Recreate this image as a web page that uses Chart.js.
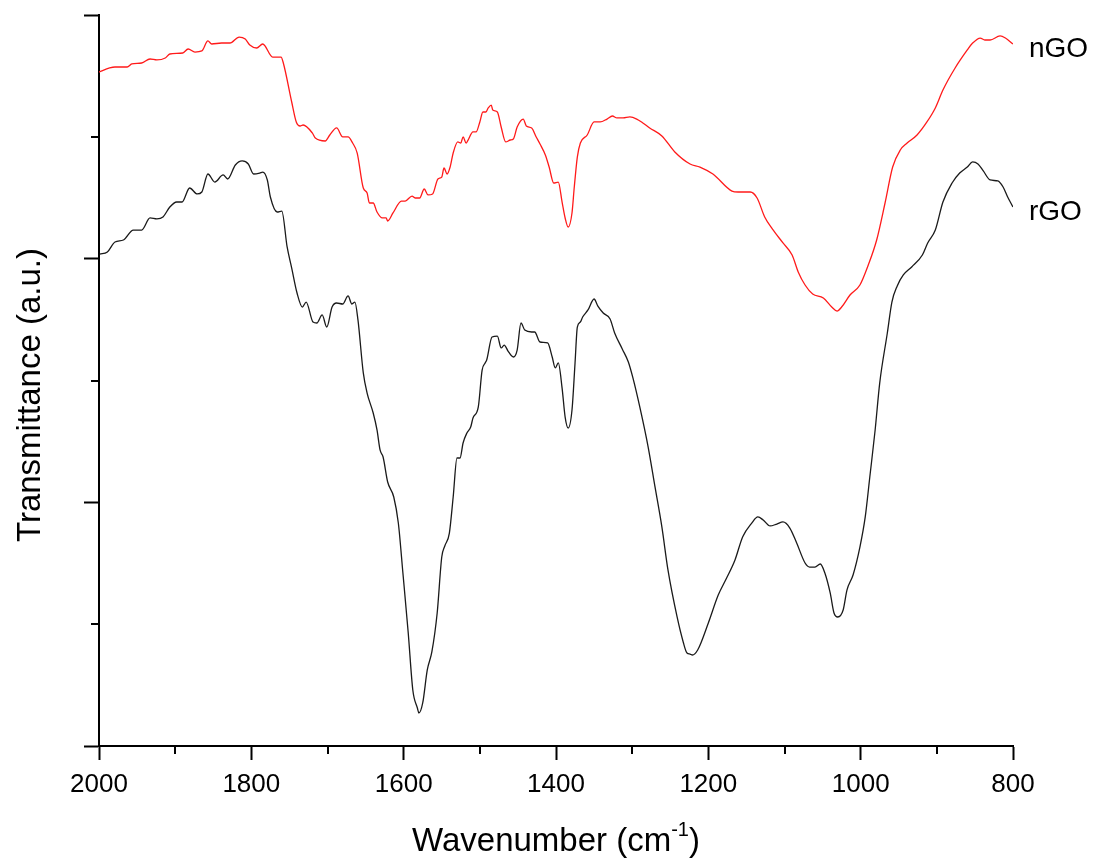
<!DOCTYPE html>
<html>
<head>
<meta charset="utf-8">
<title>FTIR nGO / rGO</title>
<script src="https://cdn.jsdelivr.net/npm/chart.js@4.4.1/dist/chart.umd.min.js"></script>
<style>
  html, body { margin: 0; padding: 0; background: #fff; }
  #wrap { width: 1095px; height: 859px; }
</style>
</head>
<body>
<div id="wrap"><canvas id="ftir" width="1095" height="859"></canvas></div>
<script>
// wavenumber (cm-1) and transmittance (a.u.)
const ngoWave = [2000,1986,1979,1963,1957,1944,1933,1924,1913,1907,1890,1883,1874,1865,1857,1852,1839,1828,1816,1808,1802,1793,1785,1772,1761,1758,1747,1741,1736,1732,1720,1716,1703,1697,1688,1680,1673,1667,1661,1653,1648,1645,1640,1635,1628,1623,1621,1614,1603,1598,1589,1585,1579,1573,1568,1562,1555,1550,1547,1543,1539,1535,1529,1525,1522,1518,1516,1509,1505,1500,1496,1492,1489,1485,1483,1477,1472,1466,1460,1456,1451,1443,1439,1432,1426,1421,1414,1409,1403,1397,1392,1388,1384,1379,1376,1372,1368,1359,1350,1342,1333,1326,1320,1312,1303,1294,1286,1277,1261,1244,1224,1211,1194,1169,1161,1145,1136,1126,1116,1102,1090,1082,1073,1063,1049,1038,1031,1025,1014,1001,990,979,968,958,948,939,926,913,902,892,876,860,853,843,837,830,817,810,800];
const ngoT = [5.532,5.565,5.573,5.573,5.598,5.606,5.639,5.631,5.647,5.680,5.688,5.721,5.696,5.705,5.787,5.762,5.770,5.770,5.819,5.803,5.754,5.729,5.762,5.655,5.655,5.606,5.286,5.122,5.089,5.097,5.032,4.990,4.966,5.015,5.073,4.999,4.999,4.949,4.867,4.580,4.539,4.457,4.457,4.383,4.334,4.334,4.309,4.375,4.473,4.473,4.514,4.498,4.498,4.572,4.523,4.531,4.654,4.670,4.744,4.695,4.752,4.867,4.958,4.949,4.999,4.949,4.966,5.040,5.040,5.122,5.204,5.204,5.237,5.261,5.220,5.204,5.081,4.958,4.974,4.982,5.081,5.146,5.089,5.073,4.999,4.941,4.851,4.752,4.621,4.629,4.465,4.334,4.260,4.375,4.588,4.834,4.949,5.015,5.122,5.122,5.146,5.171,5.155,5.155,5.163,5.146,5.114,5.073,5.007,4.876,4.777,4.752,4.695,4.555,4.547,4.547,4.498,4.342,4.244,4.129,4.030,3.891,3.784,3.710,3.677,3.603,3.570,3.603,3.702,3.784,3.948,4.153,4.457,4.752,4.892,4.949,5.015,5.122,5.237,5.384,5.565,5.713,5.770,5.811,5.795,5.795,5.828,5.811,5.762];

const rgoWave = [1999,1989,1979,1968,1955,1944,1933,1924,1916,1907,1898,1891,1881,1871,1865,1857,1848,1837,1831,1821,1812,1804,1797,1789,1785,1779,1775,1766,1760,1753,1747,1740,1733,1728,1719,1714,1707,1701,1694,1688,1680,1673,1668,1664,1660,1653,1648,1640,1635,1631,1627,1621,1613,1607,1601,1594,1588,1582,1580,1575,1569,1563,1556,1550,1546,1540,1535,1530,1526,1522,1517,1512,1509,1502,1497,1493,1491,1484,1477,1472,1468,1463,1456,1451,1446,1441,1432,1428,1421,1411,1405,1401,1397,1392,1388,1384,1379,1375,1372,1368,1365,1358,1350,1345,1338,1329,1323,1313,1305,1299,1290,1279,1270,1261,1253,1241,1233,1228,1224,1221,1214,1200,1187,1176,1165,1155,1143,1135,1128,1119,1110,1102,1093,1084,1073,1067,1060,1053,1047,1040,1035,1030,1023,1018,1010,1001,994,988,981,975,965,959,952,944,933,919,912,902,892,880,870,860,853,846,839,830,820,813,807,800];
const rgoT = [4.038,4.055,4.137,4.153,4.235,4.235,4.334,4.326,4.342,4.424,4.465,4.465,4.580,4.531,4.547,4.695,4.629,4.687,4.654,4.769,4.802,4.777,4.695,4.703,4.711,4.646,4.506,4.383,4.391,4.096,3.923,3.718,3.603,3.644,3.480,3.472,3.538,3.439,3.603,3.636,3.628,3.694,3.628,3.644,3.497,3.062,2.897,2.733,2.594,2.430,2.372,2.167,2.044,1.830,1.420,0.928,0.460,0.312,0.271,0.353,0.624,0.772,1.092,1.551,1.642,1.748,2.044,2.364,2.364,2.487,2.569,2.618,2.692,2.783,3.086,3.144,3.168,3.357,3.365,3.267,3.291,3.242,3.193,3.250,3.472,3.414,3.398,3.398,3.316,3.308,3.193,3.103,3.144,2.938,2.700,2.610,2.758,3.144,3.439,3.480,3.521,3.579,3.669,3.611,3.554,3.505,3.390,3.259,3.152,3.021,2.783,2.454,2.126,1.798,1.445,1.059,0.854,0.763,0.755,0.747,0.788,1.010,1.239,1.379,1.527,1.716,1.830,1.880,1.855,1.806,1.822,1.839,1.789,1.666,1.502,1.469,1.469,1.494,1.420,1.256,1.092,1.059,1.116,1.280,1.404,1.633,1.880,2.208,2.594,2.979,3.390,3.644,3.776,3.866,3.932,4.030,4.129,4.235,4.465,4.621,4.703,4.752,4.794,4.777,4.720,4.646,4.638,4.588,4.506,4.424];

const xMajor = [2000, 1800, 1600, 1400, 1200, 1000, 800];
const xMinor = [1900, 1700, 1500, 1300, 1100, 900];
const yMinor = [1, 3, 5];
const seriesNames = ['nGO', 'rGO'];

const FONT = '"Liberation Sans", Arial, sans-serif';

function toPoints(xs, ys) {
    return xs.map((x, i) => ({ x: x, y: ys[i] }));
}

// minor ticks, axis titles and curve labels
const extras = {
    id: 'extras',
    afterDraw(chart) {
        const ctx = chart.ctx;
        const xs = chart.scales.x;
        const ys = chart.scales.y;
        const area = chart.chartArea;
        ctx.save();
        ctx.strokeStyle = '#000';
        ctx.lineWidth = 2;
        ctx.beginPath();
        xMinor.forEach(v => {
            const px = Math.round(xs.getPixelForValue(v));
            ctx.moveTo(px, area.bottom);
            ctx.lineTo(px, area.bottom + 8);
        });
        yMinor.forEach(v => {
            const py = Math.round(ys.getPixelForValue(v));
            ctx.moveTo(area.left, py);
            ctx.lineTo(area.left - 8, py);
        });
        ctx.stroke();

        ctx.fillStyle = '#000';

        // x title with superscript
        const main = 'Wavenumber (cm';
        const sup = '-1';
        const tail = ')';
        ctx.font = '33px ' + FONT;
        const wMain = ctx.measureText(main).width;
        const wTail = ctx.measureText(tail).width;
        ctx.font = '20px ' + FONT;
        const wSup = ctx.measureText(sup).width;
        const total = wMain + wSup + wTail;
        let sx = (area.left + area.right) / 2 - total / 2;
        const base = 851;
        ctx.textBaseline = 'alphabetic';
        ctx.textAlign = 'left';
        ctx.font = '33px ' + FONT;
        ctx.fillText(main, sx, base);
        ctx.font = '20px ' + FONT;
        ctx.fillText(sup, sx + wMain, base - 15);
        ctx.font = '33px ' + FONT;
        ctx.fillText(tail, sx + wMain + wSup, base);

        // y title
        ctx.save();
        ctx.translate(40, 395);
        ctx.rotate(-Math.PI / 2);
        ctx.textAlign = 'center';
        ctx.font = '33px ' + FONT;
        ctx.fillText('Transmittance (a.u.)', 0, 0);
        ctx.restore();

        // curve labels next to the last point
        ctx.font = '28px ' + FONT;
        ctx.textAlign = 'left';
        ctx.textBaseline = 'middle';
        chart.data.datasets.forEach((ds, i) => {
            const meta = chart.getDatasetMeta(i);
            const last = meta.data[meta.data.length - 1];
            ctx.fillText(seriesNames[i], last.x + 16, last.y + 5);
        });
        ctx.restore();
    }
};

const chart = new Chart(document.getElementById('ftir').getContext('2d'), {
    type: 'line',
    data: {
        datasets: [{
            label: seriesNames[0],
            data: toPoints(ngoWave, ngoT),
            borderColor: '#ff1a1a',
            borderWidth: 1.3,
            pointRadius: 0,
            fill: false,
            cubicInterpolationMode: 'monotone'
        }, {
            label: seriesNames[1],
            data: toPoints(rgoWave, rgoT),
            borderColor: '#1a1a1a',
            borderWidth: 1.3,
            pointRadius: 0,
            fill: false,
            cubicInterpolationMode: 'monotone'
        }]
    },
    options: {
        responsive: false,
        animation: false,
        devicePixelRatio: 1,
        layout: { padding: { left: 0, right: 82, top: 15, bottom: 0 } },
        plugins: {
            legend: { display: false },
            tooltip: { enabled: false }
        },
        scales: {
            x: {
                type: 'linear',
                reverse: true,
                min: 800,
                max: 2000,
                afterBuildTicks: (scale) => { scale.ticks = xMajor.map(v => ({ value: v })); },
                afterFit: (scale) => { scale.height = 113; },
                border: { display: true, color: '#000', width: 2 },
                grid: { drawOnChartArea: false, drawTicks: true, tickLength: 14, tickColor: '#000', tickWidth: 2 },
                ticks: {
                    color: '#000',
                    padding: 9,
                    maxRotation: 0,
                    font: { family: FONT, size: 26 },
                    callback: (v) => String(v)
                }
            },
            y: {
                type: 'linear',
                min: 0,
                max: 6,
                ticks: { stepSize: 2, callback: () => '' },
                afterFit: (scale) => { scale.width = 99; },
                border: { display: true, color: '#000', width: 2 },
                grid: { drawOnChartArea: false, drawTicks: true, tickLength: 15, tickColor: '#000', tickWidth: 2 }
            }
        }
    },
    plugins: [extras]
});
</script>
</body>
</html>
